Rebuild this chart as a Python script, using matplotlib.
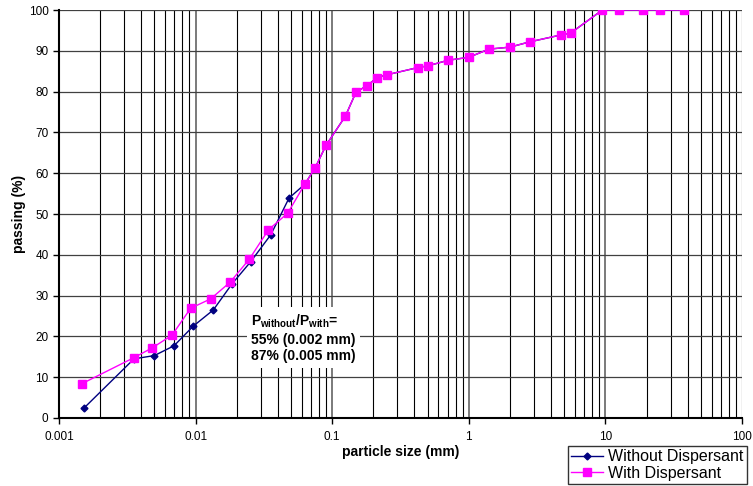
import matplotlib
matplotlib.use("Agg")
import matplotlib.pyplot as plt
import numpy as np

plt.rcParams['font.family'] = ['Liberation Sans', 'DejaVu Sans']
plt.rcParams['mathtext.fontset'] = 'custom'
plt.rcParams['mathtext.rm'] = 'Liberation Sans'
plt.rcParams['mathtext.bf'] = 'Liberation Sans:bold'

# Data
sieve_size = [0.063, 0.075, 0.09, 0.125, 0.15, 0.18, 0.212, 0.25, 0.425, 0.5,
              0.71, 1.0, 1.4, 2.0, 2.8, 4.75, 5.6, 9.5, 12.5, 19.0, 25.0, 37.5]
sieve_pass = [57.3, 61.3, 66.8, 74.0, 80.0, 81.4, 83.4, 84.1, 85.9, 86.3,
              87.7, 88.4, 90.4, 90.9, 92.2, 93.9, 94.4, 100, 100, 100, 100, 100]

without_size = [0.00152, 0.00354, 0.00499, 0.00695, 0.0096, 0.0135, 0.0184,
                0.0253, 0.0355, 0.0483]
without_pass = [2.4, 14.5, 15.3, 17.7, 22.5, 26.5, 32.8, 38.3, 44.9, 53.9]

with_size = [0.00147, 0.00354, 0.00482, 0.00672, 0.0092, 0.0129, 0.0179,
             0.0247, 0.0341, 0.0472]
with_pass = [8.4, 14.8, 17.2, 20.3, 26.9, 29.2, 33.3, 38.9, 46.1, 50.2]

x_ticks = [0.001, 0.01, 0.1, 1, 10, 100]
x_ticklabels = ['0.001', '0.01', '0.1', '1', '10', '100']
y_ticks = list(range(0, 101, 10))

fig = plt.figure(figsize=(7.53, 4.86), dpi=100)
ax = fig.add_axes([59/753, 1-418/486, (742-59)/753, (418-10)/486])

ax.set_xscale('log')
ax.set_xlim(0.001, 100)
ax.set_ylim(0, 100)

# gridlines
for dec in [0.001, 0.01, 0.1, 1, 10]:
    for m in range(1, 10):
        v = dec * m
        if m == 1:
            ax.axvline(v, color='#707070', lw=1.3, zorder=1)
        else:
            ax.axvline(v, color='black', lw=0.8, zorder=1)
ax.axvline(100, color='black', lw=0.8, zorder=1)
for yv in y_ticks:
    ax.axhline(yv, color='#404040', lw=0.9, zorder=1)

ax.plot(without_size + sieve_size, without_pass + sieve_pass, color='#000080',
        marker='D', markersize=3.5, lw=1.0, label='Without Dispersant', zorder=3)
ax.plot(with_size + sieve_size, with_pass + sieve_pass, color='#FF00FF',
        marker='s', markersize=5.5, lw=1.0, label='With Dispersant', zorder=4)

ax.set_xticks(x_ticks)
ax.set_xticklabels(x_ticklabels)
ax.xaxis.set_minor_locator(matplotlib.ticker.NullLocator())
ax.set_yticks(y_ticks)
ax.tick_params(axis='both', labelsize=8.5, direction='out', length=4, width=1, colors='black')
ax.tick_params(axis='x', pad=5)

for s in ['top', 'right']:
    ax.spines[s].set_visible(False)
ax.spines['left'].set_linewidth(1.5)
ax.spines['bottom'].set_linewidth(1.5)

ax.set_xlabel('particle size (mm)', fontsize=10, fontweight='bold', labelpad=2)
ax.set_ylabel('passing (%)', fontsize=10, fontweight='bold', labelpad=2)

# annotation box
txt = (r'$\mathbf{P}_{\mathbf{without}}\mathbf{/P}_{\mathbf{with}}$=' + '\n'
       + '55% (0.002 mm)\n87% (0.005 mm)')
ax.text(0.0255, 19.6, txt, fontsize=10, fontweight='bold', ha='left', va='center',
        linespacing=1.25, zorder=6,
        bbox=dict(boxstyle='square,pad=0.3', facecolor='white', edgecolor='none'))

leg = fig.legend(loc='upper left', bbox_to_anchor=(568/753, 1-446/486),
                 fontsize=11.5, frameon=True, fancybox=False, edgecolor='black',
                 borderpad=0.2, handlelength=2.0, labelspacing=0.1,
                 handletextpad=0.3, borderaxespad=0)
leg.get_frame().set_linewidth(1.0)

fig.savefig('out.png', dpi=100)
